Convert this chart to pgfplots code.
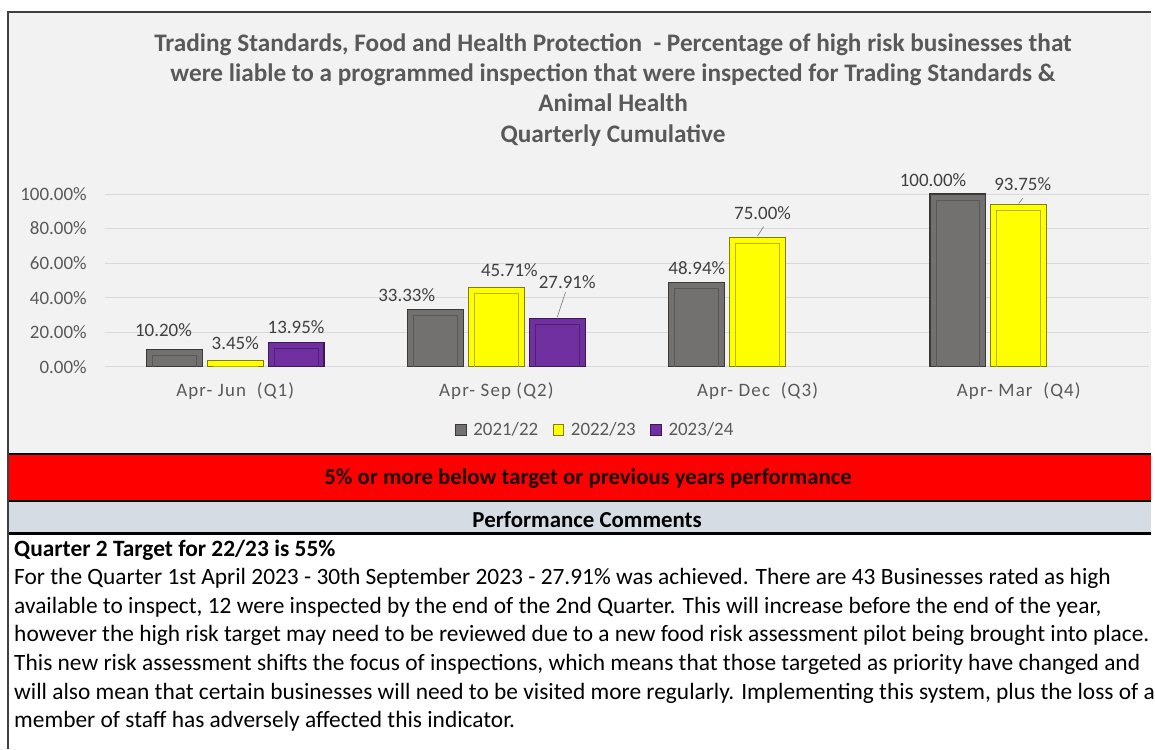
\documentclass[border=0pt]{standalone}
\usepackage{pgfplots}
\pgfplotsset{compat=1.18}
\usepackage{pgfplotstable}
\usepackage{fontspec}
\setmainfont{Carlito}
\newfontfamily\widefont[LetterSpace=6]{Carlito}

\definecolor{chartbg}{HTML}{F2F2F2}
\definecolor{txtgray}{HTML}{595959}
\definecolor{lblgray}{HTML}{404040}
\definecolor{gridc}{HTML}{D9D9D9}
\definecolor{bgray}{HTML}{737070}
\definecolor{bgrayd}{HTML}{3A3838}
\definecolor{bgrayi}{HTML}{5A5757}
\definecolor{byel}{HTML}{FFFF00}
\definecolor{byeld}{HTML}{7F7F00}
\definecolor{byeli}{HTML}{B5B500}
\definecolor{bpur}{HTML}{7030A0}
\definecolor{bpurd}{HTML}{3B1858}
\definecolor{bpuri}{HTML}{4E2270}
\definecolor{redband}{HTML}{FF0000}
\definecolor{bluegray}{HTML}{D6DCE4}
\definecolor{framec}{HTML}{3F3F3F}

% x = category index, y = percentage, dx/dy = label offsets (pt)
\pgfplotstableread{
x y dx dy
0 10.20 -8.25 1.5
1 33.33 -21.75 -2.25
2 48.94 0 -2.25
3 100.00 -18.75 -2.25
}\tA
\pgfplotstableread{
x y dx dy
0 3.45 0 0.75
1 45.71 9.75 0.75
2 75.00 3.75 5.25
3 93.75 3 3
}\tB
\pgfplotstableread{
x y dx dy
0 13.95 0 -0.75
1 27.91 7.5 15
}\tC

\begin{document}
\begin{tikzpicture}
\begin{scope}[x=0.75pt,y=0.75pt]
\useasboundingbox (0,0) rectangle (1155,751);
\fill[white] (0,0) rectangle (1155,751);
\fill[chartbg] (9,296) rectangle (1155,739);
\end{scope}

\begin{axis}[
  at={(78.75pt,287.25pt)}, anchor=south west,
  scale only axis, width=786pt, height=156pt,
  xmin=-0.5, xmax=3.5, ymin=0, ymax=120,
  ybar,
  axis line style={draw=none},
  major tick length=0pt,
  ytick={0,20,40,60,80,100},
  ymajorgrids, grid style={gridc, line width=0.8pt},
  xtick={0,1,2,3},
  xticklabels={Apr-~Jun~~(Q1), Apr-~Sep~(Q2), Apr-~Dec~~(Q3), Apr-~Mar~~(Q4)},
  /pgf/number format/assume math mode=true,
  yticklabel={\pgfmathprintnumber[fixed,fixed zerofill,precision=2]{\tick}\%},
  ticklabel style={font=\fontsize{14.25}{16}\selectfont, text=txtgray},
  xticklabel style={font=\widefont\fontsize{14.25}{16}\selectfont, yshift=-8pt},
  yticklabel style={xshift=-10pt},
  outer/.style={bar width=42pt, line width=0.9pt,
     nodes near coords={\pgfmathprintnumber[fixed,fixed zerofill,precision=2]{\pgfplotspointmeta}\%},
     visualization depends on={\thisrow{dx} \as \dx},
     visualization depends on={\thisrow{dy} \as \dy},
     every node near coord/.append style={font=\fontsize{14.25}{16}\selectfont, text=lblgray,
        anchor=center, xshift=\dx pt, yshift=12.75pt+\dy pt}},
  inner/.style={bar width=33pt, line width=0.6pt, fill=none, yshift=-4.5pt},
  legend style={at={(0.470,-0.303)}, anchor=center, draw=none, fill=none,
     font=\fontsize{14.25}{16}\selectfont, text=txtgray,
     /tikz/every odd column/.append style={column sep=3pt},
     /tikz/every even column/.append style={column sep=9pt}},
  legend columns=3,
  legend cell align=left,
]
\addplot[outer, fill=bgray, draw=bgrayd, bar shift=-45.75pt, forget plot] table[x=x,y=y] {\tA};
\addplot[outer, fill=byel, draw=byeld, bar shift=0pt, forget plot] table[x=x,y=y] {\tB};
\addplot[outer, fill=bpur, draw=bpurd, bar shift=45.75pt, forget plot] table[x=x,y=y] {\tC};
\addplot[inner, draw=bgrayi, bar shift=-45.75pt, forget plot] table[x=x,y=y] {\tA};
\addplot[inner, draw=byeli, bar shift=0pt, forget plot] table[x=x,y=y] {\tB};
\addplot[inner, draw=bpuri, bar shift=45.75pt, forget plot] table[x=x,y=y] {\tC};

\draw[gray, line width=0.5pt] ([xshift=45.75pt,yshift=1pt]axis cs:1,27.91) -- ([xshift=52pt,yshift=20pt]axis cs:1,27.91);
\draw[gray, line width=0.5pt] ([xshift=0pt,yshift=1pt]axis cs:2,75) -- ([xshift=4.5pt,yshift=8pt]axis cs:2,75);
\draw[gray, line width=0.5pt] ([xshift=0pt,yshift=1pt]axis cs:3,93.75) -- ([xshift=3pt,yshift=5pt]axis cs:3,93.75);

\addlegendimage{legend image code/.code={\draw[fill=bgray,draw=bgrayd,line width=0.6pt] (0pt,-4pt) rectangle (8pt,4pt);}}
\addlegendentry{2021/22}
\addlegendimage{legend image code/.code={\draw[fill=byel,draw=byeld,line width=0.6pt] (0pt,-4pt) rectangle (8pt,4pt);}}
\addlegendentry{2022/23}
\addlegendimage{legend image code/.code={\draw[fill=bpur,draw=bpurd,line width=0.6pt] (0pt,-4pt) rectangle (8pt,4pt);}}
\addlegendentry{2023/24}
\end{axis}

\begin{scope}[x=0.75pt,y=0.75pt]
% title
\begin{scope}[every node/.style={anchor=base, text=txtgray, font=\fontsize{19}{22}\bfseries\selectfont, inner sep=0pt}]
\node at (615,699) {Trading Standards, Food and Health Protection\ \ - Percentage of high risk businesses that};
\node at (615,669) {were liable to a programmed inspection that were inspected for Trading Standards \&};
\node at (615,639) {Animal Health};
\node at (615,608) {Quarterly Cumulative};
\end{scope}
% bands
\fill[redband] (9,296) rectangle (1155,248);
\fill[bluegray] (9,248) rectangle (1155,216);
\draw[black, line width=1.5pt] (8,296) -- (1155,296);
\draw[black, line width=1.5pt] (8,248) -- (1155,248);
\draw[black, line width=2pt] (8,216) -- (1155,216);
\node[anchor=center, font=\fontsize{17.1}{20}\bfseries\selectfont, text=black!90!red, inner sep=0pt] at (590,271) {5\% or more below target or previous years performance};
\node[anchor=center, font=\fontsize{17.2}{20}\bfseries\selectfont, text=black, inner sep=0pt] at (589,230) {Performance Comments};
% frame
\draw[framec, line width=1.2pt] (1155,739) -- (8,739) -- (8,0);
% comments
\begin{scope}[every node/.style={anchor=base west, text=black, font=\fontsize{17.6}{20}\selectfont, inner sep=0pt}]
\node[font=\fontsize{17.6}{20}\bfseries\selectfont] at (14,193) {Quarter 2 Target for 22/23 is 55\%};
\node at (14,164.3) {For the Quarter 1st April 2023 - 30th September 2023 - 27.91\% was achieved. There are 43 Businesses rated as high};
\node at (14,135.6) {available to inspect, 12 were inspected by the end of the 2nd Quarter. This will increase before the end of the year,};
\node at (14,107) {however the high risk target may need to be reviewed due to a new food risk assessment pilot being brought into place.};
\node at (14,78.2) {This new risk assessment shifts the focus of inspections, which means that those targeted as priority have changed and};
\node at (14,49.5) {will also mean that certain businesses will need to be visited more regularly. Implementing this system, plus the loss of a};
\node at (14,21) {member of staff has adversely affected this indicator.};
\end{scope}
\end{scope}
\end{tikzpicture}
\end{document}
